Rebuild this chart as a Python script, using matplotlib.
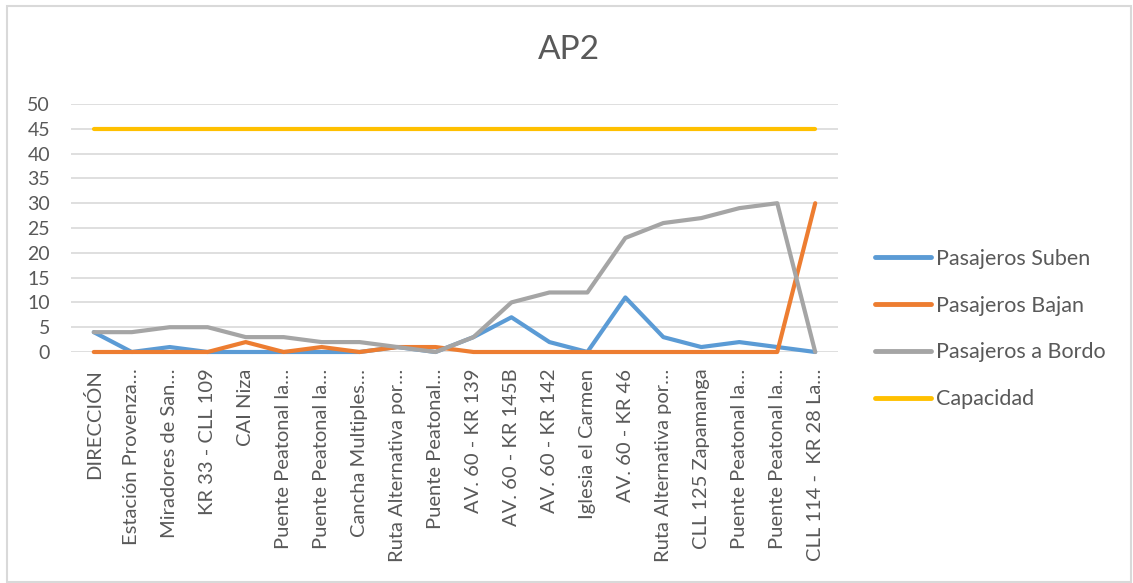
import matplotlib
matplotlib.use("Agg")
import matplotlib.pyplot as plt
from matplotlib.patches import Rectangle

plt.rcParams['font.family'] = ['Lato', 'DejaVu Sans']

paradas = [
    "DIRECCIÓN", "Estación Provenza…", "Miradores de San…", "KR 33 - CLL 109",
    "CAI Niza", "Puente Peatonal la…", "Puente Peatonal la…", "Cancha Multiples…",
    "Ruta Alternativa por…", "Puente Peatonal…", "AV. 60 - KR 139", "AV. 60 - KR 145B",
    "AV. 60 - KR 142", "Iglesia el Carmen", "AV. 60 - KR 46", "Ruta Alternativa por…",
    "CLL 125 Zapamanga", "Puente Peatonal la…", "Puente Peatonal la…", "CLL 114 -  KR 28 La…",
]
suben = [4, 0, 1, 0, 0, 0, 0, 0, 1, 0, 3, 7, 2, 0, 11, 3, 1, 2, 1, 0]
bajan = [0, 0, 0, 0, 2, 0, 1, 0, 1, 1, 0, 0, 0, 0, 0, 0, 0, 0, 0, 30]
a_bordo = [4, 4, 5, 5, 3, 3, 2, 2, 1, 0, 3, 10, 12, 12, 23, 26, 27, 29, 30, 0]
capacidad = [45] * len(paradas)
yticks = list(range(0, 55, 5))

W, H = 1133, 583
fig = plt.figure(figsize=(W / 100, H / 100), dpi=100)
fig.patches.append(Rectangle((7 / W, 1 / H), 1124 / W, 576 / H, transform=fig.transFigure,
                             fill=False, edgecolor='#D9D9D9', linewidth=1.5))

ax = fig.add_axes([71 / W, 1 - 352 / H, (838 - 71) / W, (352 - 104) / H])
x = list(range(len(paradas)))
series = [
    (suben, '#5B9BD5', 'Pasajeros Suben'),
    (bajan, '#ED7D31', 'Pasajeros Bajan'),
    (a_bordo, '#A5A5A5', 'Pasajeros a Bordo'),
    (capacidad, '#FFC000', 'Capacidad'),
]
for vals, col, lab in series:
    ax.plot(x, vals, color=col, linewidth=3.0, label=lab, clip_on=False,
            solid_capstyle='round', solid_joinstyle='round', zorder=3)

ax.set_xlim(-0.6, len(paradas) - 0.4)
ax.set_ylim(0, 50)
ax.set_yticks(yticks)
ax.yaxis.grid(True, color='#D9D9D9', linewidth=1.2)
ax.set_axisbelow(True)
for s in ax.spines.values():
    s.set_visible(False)
ax.tick_params(axis='y', length=0, pad=15, labelsize=14, labelcolor='#595959')
ax.set_xticks(x)
ax.set_xticklabels(paradas, rotation=90, fontsize=14.5, color='#595959')
ax.tick_params(axis='x', length=0, pad=12)

fig.text(569 / W, 1 - 50 / H, "AP2", ha='center', va='center', fontsize=24,
         color='#595959')

leg = fig.legend(loc='center left', bbox_to_anchor=(866 / W, 1 - 329 / H), frameon=False,
                 fontsize=15.5, labelcolor='#595959', handlelength=2.6, handletextpad=0.25,
                 labelspacing=1.25, borderaxespad=0)
for ln in leg.get_lines():
    ln.set_linewidth(3.5)

fig.savefig('out.png', dpi=100)
